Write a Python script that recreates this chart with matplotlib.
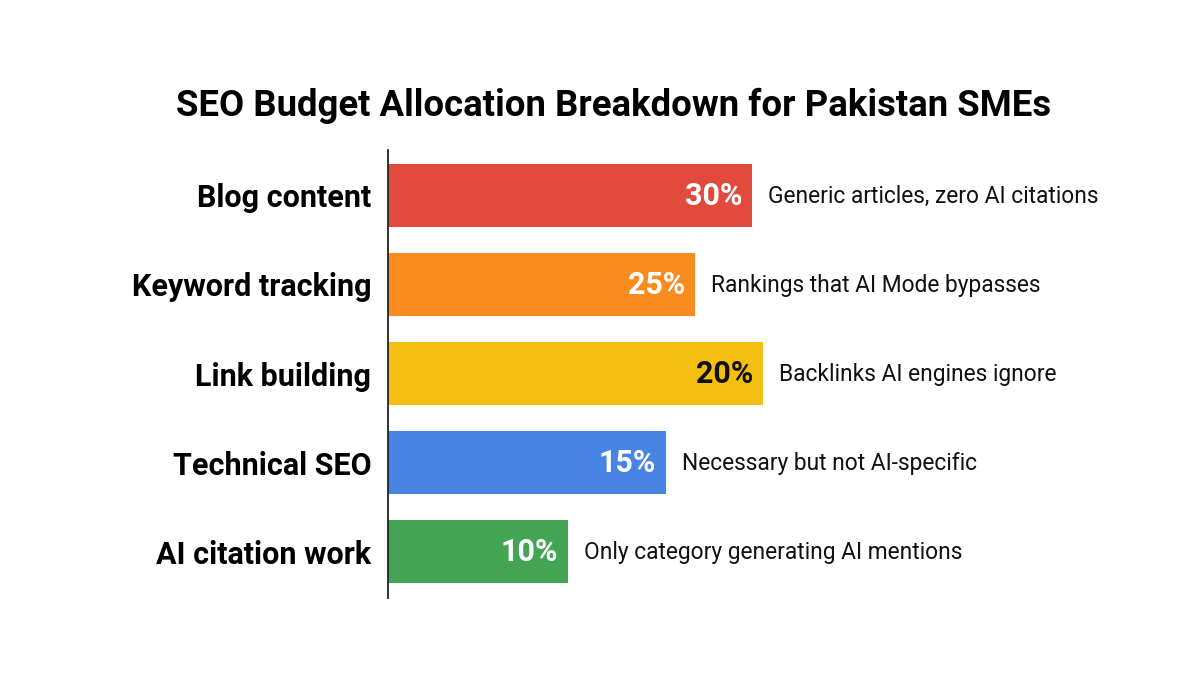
import matplotlib.pyplot as plt

# Data

categories = ['Blog content', 'Keyword tracking', 'Link building',
              'Technical SEO', 'AI citation work']
shares = ['30%', '25%', '20%', '15%', '10%']
# bar lengths as they are drawn (the picture does not scale them to the share)
bar_length = [30.0, 25.3, 30.9, 22.9, 14.8]
notes = ['Generic articles, zero AI citations',
         'Rankings that AI Mode bypasses',
         'Backlinks AI engines ignore',
         'Necessary but not AI-specific',
         'Only category generating AI mentions']

colors = ['#E04B3E', '#FA8C1F', '#F5BE12', '#4784E3', '#43A453']
pct_colors = ['white', 'white', '#111111', 'white', 'white']

plt.rcParams['font.family'] = ['Roboto', 'DejaVu Sans']

fig = plt.figure(figsize=(12, 6.75), dpi=100)
ax = fig.add_axes([0.3233, 0.114, 0.635, 0.664])

y = list(range(len(categories)))
ax.barh(y, bar_length, height=0.71, color=colors)

ax.set_ylim(4.52, -0.51)
ax.set_xlim(0, 62.8)

for i in y:
    ax.annotate(shares[i], (bar_length[i], i), xytext=(-7, -0.5),
                textcoords='offset points', ha='right', va='center',
                fontsize=22, fontweight='bold', color=pct_colors[i])
    ax.annotate(notes[i], (bar_length[i], i), xytext=(11.5, -0.5),
                textcoords='offset points', ha='left', va='center',
                fontsize=16.4, color='#111111')

ax.set_yticks(y)
ax.set_yticklabels(categories, fontsize=22, fontweight='bold')
ax.tick_params(axis='y', length=0, pad=12)
ax.set_xticks([])

for side in ['top', 'right', 'bottom']:
    ax.spines[side].set_visible(False)
ax.spines['left'].set_color('#222222')
ax.spines['left'].set_linewidth(1.3)

fig.suptitle('SEO Budget Allocation Breakdown for Pakistan SMEs',
             x=0.511, y=0.87, fontsize=26.3, fontweight='bold')

fig.savefig('out.png', dpi=100, facecolor='white')
